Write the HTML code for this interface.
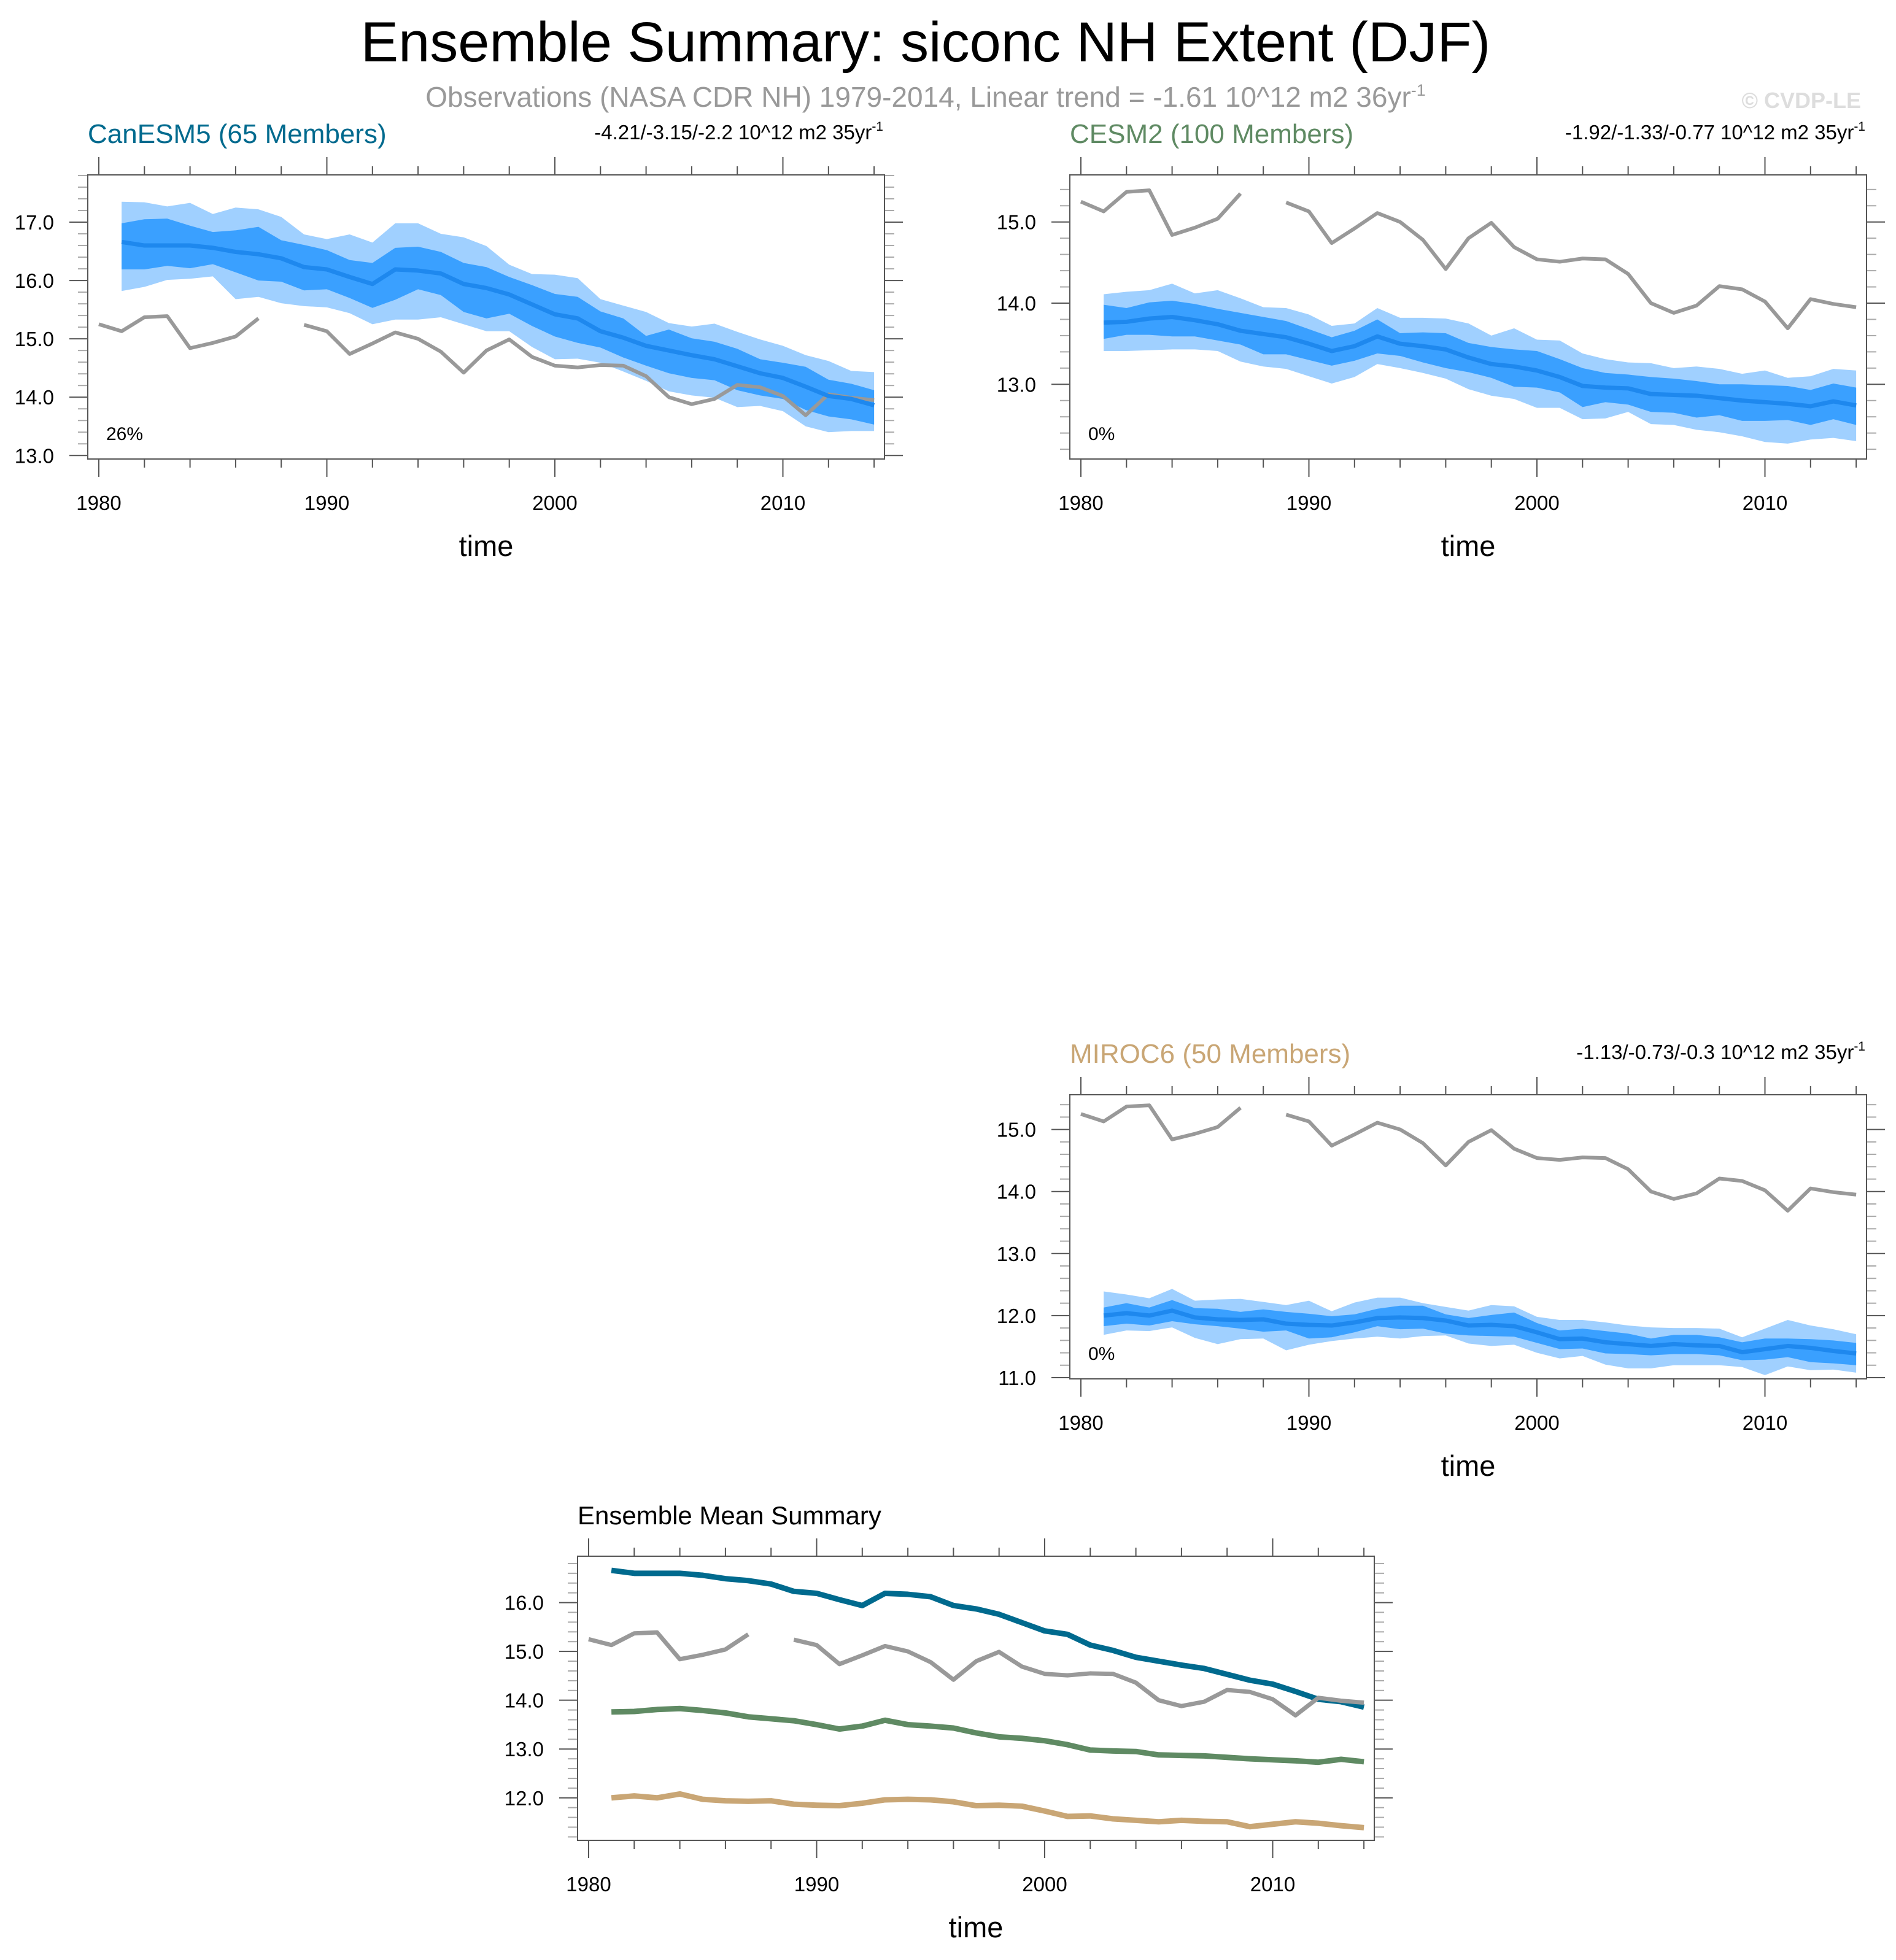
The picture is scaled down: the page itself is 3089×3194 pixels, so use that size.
<!DOCTYPE html>
<html><head><meta charset="utf-8">
<style>
body{margin:0;background:#fff;}
svg{display:block;font-family:"Liberation Sans",sans-serif;}
</style></head>
<body>
<svg id="fig" width="3089" height="3194" viewBox="0 0 3089 3194" xmlns="http://www.w3.org/2000/svg">
<rect width="3089" height="3194" fill="#fff"/>
<text x="1508" y="100" font-size="92" text-anchor="middle" fill="#000">Ensemble Summary: siconc NH Extent (DJF)</text>
<text x="1508" y="174" font-size="46" text-anchor="middle" fill="#999">Observations (NASA CDR NH) 1979-2014, Linear trend = -1.61 10^12 m2 36yr<tspan font-size="27" dy="-18">-1</tspan></text>
<text x="3032" y="176" font-size="36" font-weight="bold" text-anchor="end" fill="#ddd">© CVDP-LE</text>
<g id="panels"></g>
</svg>
<script>
const years = [1981,1982,1983,1984,1985,1986,1987,1988,1989,1990,1991,1992,1993,1994,1995,1996,1997,1998,1999,2000,2001,2002,2003,2004,2005,2006,2007,2008,2009,2010,2011,2012,2013,2014];
const obsYears = [1980,1981,1982,1983,1984,1985,1986,1987,1988,1989,1990,1991,1992,1993,1994,1995,1996,1997,1998,1999,2000,2001,2002,2003,2004,2005,2006,2007,2008,2009,2010,2011,2012,2013,2014];
const obs = [15.25,15.13,15.37,15.39,14.84,14.93,15.04,15.35,null,15.24,15.13,14.74,14.92,15.11,15.0,14.78,14.42,14.80,14.99,14.69,14.54,14.51,14.55,14.54,14.36,14.00,13.88,13.97,14.21,14.17,14.02,13.69,14.05,13.99,13.95];

const canMean = [16.66,16.60,16.60,16.60,16.56,16.49,16.45,16.38,16.23,16.19,16.06,15.94,16.19,16.17,16.12,15.94,15.87,15.76,15.59,15.42,15.35,15.13,15.02,14.88,14.80,14.72,14.65,14.53,14.41,14.33,14.18,14.02,13.97,13.86];
const canDarkHi = [16.98,17.05,17.06,16.94,16.83,16.86,16.92,16.69,16.61,16.52,16.35,16.30,16.56,16.58,16.49,16.30,16.23,16.06,15.92,15.77,15.72,15.47,15.35,15.05,15.16,15.01,14.95,14.83,14.65,14.59,14.52,14.30,14.23,14.12];
const canDarkLo = [16.19,16.19,16.25,16.21,16.28,16.14,16.00,15.98,15.83,15.85,15.70,15.53,15.67,15.85,15.75,15.46,15.35,15.43,15.22,15.04,14.93,14.85,14.68,14.54,14.41,14.33,14.29,14.12,14.03,13.97,13.78,13.67,13.62,13.53];
const canLightHi = [17.35,17.34,17.27,17.33,17.14,17.25,17.22,17.09,16.79,16.71,16.79,16.65,16.98,16.98,16.80,16.74,16.59,16.27,16.11,16.10,16.04,15.68,15.57,15.46,15.27,15.21,15.26,15.12,14.99,14.88,14.72,14.62,14.45,14.43];
const canLightLo = [15.82,15.89,16.01,16.03,16.07,15.68,15.72,15.61,15.56,15.54,15.44,15.25,15.33,15.33,15.37,15.25,15.13,15.13,14.86,14.65,14.66,14.59,14.44,14.28,14.10,14.03,13.99,13.83,13.85,13.76,13.50,13.40,13.42,13.42];

const cesmMean = [13.76,13.77,13.81,13.83,13.79,13.74,13.66,13.62,13.58,13.50,13.41,13.47,13.59,13.50,13.47,13.43,13.33,13.25,13.22,13.17,13.09,12.98,12.96,12.95,12.88,12.87,12.86,12.83,12.80,12.78,12.76,12.73,12.79,12.74];
const cesmDarkHi = [13.98,13.94,14.01,14.03,13.99,13.93,13.88,13.83,13.78,13.68,13.58,13.66,13.80,13.63,13.64,13.63,13.51,13.46,13.43,13.41,13.31,13.20,13.14,13.12,13.09,13.07,13.04,13.00,13.00,12.99,12.98,12.93,13.01,12.96];
const cesmDarkLo = [13.56,13.61,13.61,13.59,13.59,13.54,13.49,13.37,13.37,13.30,13.23,13.29,13.38,13.35,13.27,13.20,13.15,13.08,12.97,12.96,12.90,12.72,12.78,12.75,12.66,12.65,12.59,12.62,12.55,12.55,12.56,12.50,12.57,12.50];
const cesmLightHi = [14.11,14.14,14.16,14.24,14.12,14.16,14.06,13.95,13.94,13.86,13.72,13.75,13.94,13.82,13.82,13.81,13.75,13.60,13.69,13.55,13.54,13.38,13.31,13.27,13.26,13.20,13.22,13.19,13.13,13.17,13.08,13.10,13.19,13.17];
const cesmLightLo = [13.41,13.41,13.42,13.43,13.43,13.41,13.28,13.22,13.19,13.10,13.01,13.09,13.25,13.20,13.14,13.07,12.94,12.86,12.82,12.71,12.71,12.57,12.58,12.66,12.51,12.50,12.44,12.41,12.36,12.29,12.27,12.32,12.34,12.30];

const mirocMean = [12.00,12.04,12.00,12.08,11.97,11.94,11.93,11.94,11.87,11.85,11.84,11.89,11.96,11.97,11.96,11.92,11.84,11.85,11.83,11.73,11.62,11.63,11.57,11.54,11.51,11.54,11.52,11.51,11.41,11.46,11.51,11.48,11.43,11.39];
const mirocDarkHi = [12.13,12.20,12.13,12.25,12.12,12.11,12.06,12.10,12.06,12.03,11.99,12.02,12.11,12.16,12.16,12.02,11.96,12.01,12.05,11.88,11.76,11.79,11.75,11.71,11.63,11.69,11.69,11.65,11.57,11.63,11.63,11.62,11.60,11.56];
const mirocDarkLo = [11.83,11.87,11.84,11.91,11.86,11.83,11.79,11.74,11.76,11.63,11.65,11.73,11.83,11.78,11.79,11.71,11.68,11.67,11.66,11.56,11.46,11.47,11.39,11.38,11.36,11.38,11.38,11.36,11.28,11.29,11.33,11.25,11.23,11.20];
const mirocLightHi = [12.39,12.34,12.28,12.43,12.24,12.26,12.27,12.22,12.17,12.24,12.07,12.21,12.29,12.29,12.20,12.14,12.08,12.17,12.15,11.98,11.93,11.93,11.89,11.84,11.81,11.80,11.80,11.79,11.65,11.79,11.93,11.84,11.78,11.70];
const mirocLightLo = [11.69,11.76,11.75,11.81,11.64,11.54,11.62,11.63,11.44,11.53,11.59,11.63,11.66,11.63,11.67,11.68,11.55,11.51,11.53,11.40,11.31,11.35,11.21,11.15,11.15,11.20,11.20,11.20,11.17,11.04,11.18,11.12,11.13,11.08];

const xTickYears = [1980,1990,2000,2010];
const p1Ticks = [13,14,15,16,17];
const p2Ticks = [13,14,15];
const p3Ticks = [11,12,13,14,15];
const p4Ticks = [12,13,14,15,16];

const NS = "http://www.w3.org/2000/svg";
const root = document.getElementById('panels');
function mk(tag, attrs, parent){const e=document.createElementNS(NS,tag);for(const k in attrs)e.setAttribute(k,attrs[k]);(parent||root).appendChild(e);return e;}

function panel(cfg){
  const g = mk('g',{});
  
  
  const L=cfg.left,T=cfg.top,W=1298,H=463;
  const xs = y => L + 18 + (y-1980)*37.15;
  const ys = v => T + (cfg.ymax - v)/(cfg.ymax-cfg.ymin)*H;
  const tk = mk('g',{stroke:'#555','stroke-width':2},g);
  
  
  for(let yr=1980; yr<=2014; yr+=2){
    const len = (yr%10===0)?29:14, x=xs(yr);
    mk('line',{x1:x,x2:x,y1:T,y2:T-len},tk);
    mk('line',{x1:x,x2:x,y1:T+H,y2:T+H+len},tk);
  }
  for(let v=Math.ceil(cfg.ymin*5)/5; v<=cfg.ymax+1e-9; v+=0.2){
    const vv=Math.round(v*5)/5, y=ys(vv), major=Math.abs(vv-Math.round(vv))<1e-6, len=major?30:16;
    mk('line',{x1:L,x2:L-len,y1:y,y2:y,stroke:major?'#555':'#aaa'},tk);
    mk('line',{x1:L+W,x2:L+W+len,y1:y,y2:y,stroke:major?'#555':'#aaa'},tk);
  }
  const band=(hi,lo,col,nm)=>{
    let d='M'+years.map((y,i)=>xs(y)+','+ys(hi[i])).join('L');
    for(let i=years.length-1;i>=0;i--) d+='L'+xs(years[i])+','+ys(lo[i]);
    const p=mk('path',{d:d+'Z',fill:col},g);
    
    
  };
  const line=(xv,vals,col,w,nm)=>{
    let d='',pen=false;
    vals.forEach((v,i)=>{ if(v===null){pen=false;return;} d+=(pen?'L':'M')+xs(xv[i])+','+ys(v); pen=true;});
    const p=mk('path',{d:d,fill:'none',stroke:col,'stroke-width':w,'stroke-linejoin':'round'},g);
    
    
  };
  if(cfg.bands){
    band(cfg.bands[0],cfg.bands[1],'#a0d0ff','ensemble-range-band');
    band(cfg.bands[2],cfg.bands[3],'#3aa0ff','ensemble-iqr-band');
    line(obsYears,obs,'#999',6,'observations-line');
    line(years,cfg.mean,'#1e88ee',7,'ensemble-mean-line');
  } else {
    line(years,canMean,'#006a8e',9,'canesm5-mean-line');
    line(obsYears,obs,'#999',7,'observations-line');
    line(years,cesmMean,'#5f8a63',9,'cesm2-mean-line');
    line(years,mirocMean,'#c9a675',9,'miroc6-mean-line');
  }
  const fr=mk('rect',{x:L,y:T,width:W,height:H,fill:'none',stroke:'#555','stroke-width':2},g);
  
  
  cfg.yticks.forEach(v=>{
    const t=mk('text',{x:L-55,y:ys(v)+12,'font-size':33,'text-anchor':'end'},g);
    
    
    t.textContent=v.toFixed(1);
  });
  xTickYears.forEach(yr=>{
    const t=mk('text',{x:xs(yr),y:T+H+83,'font-size':33,'text-anchor':'middle'},g);
    
    
    t.textContent=yr;
  });
  const xt=mk('text',{x:L+W/2,y:T+H+158,'font-size':47,'text-anchor':'middle'},g);
  
  
  xt.textContent='time';
  const tt=mk('text',{x:L,y:T-52,'font-size':cfg.bands?44:42,fill:cfg.color},g);
  
  
  tt.textContent=cfg.title;
  if(cfg.trend){
    const tr=mk('text',{x:L+W-2,y:T-58,'font-size':33,'text-anchor':'end'},g);
    
    
    tr.textContent=cfg.trend;
    const sup=mk('tspan',{'font-size':21,dy:-14},tr);
    sup.textContent='-1';
    const pc=mk('text',{x:L+30,y:T+432,'font-size':30},g);
    
    
    pc.textContent=cfg.pct;
  }
}

panel({name:'canesm5-panel',left:143,top:285,ymin:12.94,ymax:17.81,yticks:p1Ticks,title:'CanESM5 (65 Members)',color:'#006a8e',trend:'-4.21/-3.15/-2.2 10^12 m2 35yr',pct:'26%',mean:canMean,bands:[canLightHi,canLightLo,canDarkHi,canDarkLo]});
panel({name:'cesm2-panel',left:1743,top:285,ymin:12.08,ymax:15.58,yticks:p2Ticks,title:'CESM2 (100 Members)',color:'#5f8a63',trend:'-1.92/-1.33/-0.77 10^12 m2 35yr',pct:'0%',mean:cesmMean,bands:[cesmLightHi,cesmLightLo,cesmDarkHi,cesmDarkLo]});
panel({name:'miroc6-panel',left:1743,top:1784,ymin:10.98,ymax:15.56,yticks:p3Ticks,title:'MIROC6 (50 Members)',color:'#c9a675',trend:'-1.13/-0.73/-0.3 10^12 m2 35yr',pct:'0%',mean:mirocMean,bands:[mirocLightHi,mirocLightLo,mirocDarkHi,mirocDarkLo]});
panel({name:'ensemble-mean-summary-panel',left:941,top:2536,ymin:11.13,ymax:16.95,yticks:p4Ticks,title:'Ensemble Mean Summary',color:'#000'});
</script>
</body></html>
